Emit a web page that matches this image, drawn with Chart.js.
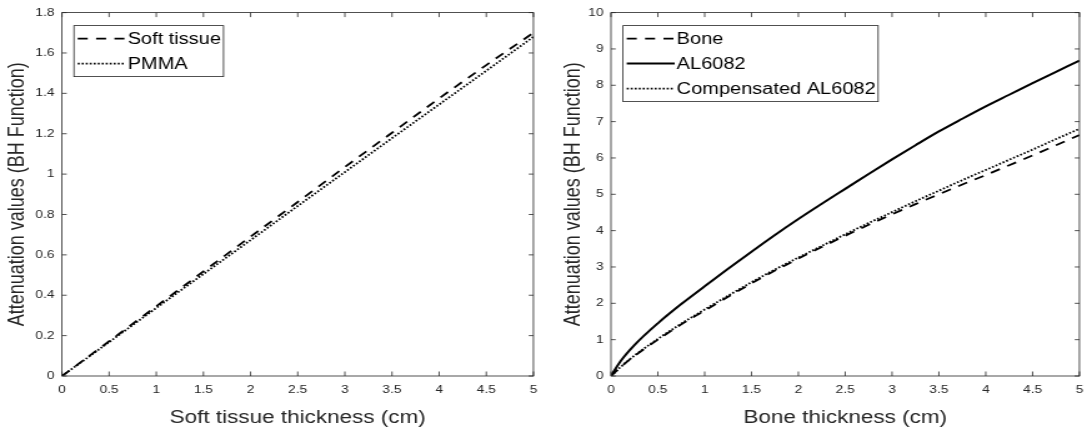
<!DOCTYPE html>
<html>
<head>
<meta charset="utf-8">
<script src="https://cdn.jsdelivr.net/npm/chart.js@4.4.1/dist/chart.umd.min.js"></script>
<style>
  body { margin: 0; background: #fff; }
  .panel { position: absolute; top: 0; width: 546px; height: 437px; }
  .panel canvas { width: 546px !important; height: 437px !important; }
</style>
</head>
<body>
<div class="panel" style="left:0"><canvas id="softChart" width="437" height="437" style="width:546px;height:437px"></canvas></div>
<div class="panel" style="left:546px"><canvas id="boneChart" width="437" height="437" style="width:546px;height:437px"></canvas></div>
<script>
// left panel: soft tissue vs PMMA
var softX = [0, 0.5, 1, 1.5, 2, 2.5, 3, 3.5, 4, 4.5, 5];
var softTissue = [0, 0.172, 0.345, 0.518, 0.69, 0.862, 1.035, 1.205, 1.375, 1.54, 1.70];
var pmma = [0, 0.168, 0.337, 0.505, 0.673, 0.842, 1.01, 1.178, 1.345, 1.512, 1.68];

// right panel: bone vs AL6082
var boneX = [0, 0.1, 0.25, 0.5, 0.75, 1, 1.25, 1.5, 1.75, 2, 2.25, 2.5, 2.75, 3, 3.25, 3.5, 3.75, 4, 4.25, 4.5, 4.75, 5];
var bone = [0, 0.24, 0.55, 1.0, 1.42, 1.8, 2.18, 2.55, 2.9, 3.23, 3.55, 3.86, 4.16, 4.45, 4.73, 5.0, 5.27, 5.53, 5.8, 6.07, 6.35, 6.63];
var al6082 = [0, 0.4, 0.85, 1.45, 1.98, 2.47, 2.95, 3.42, 3.88, 4.32, 4.74, 5.15, 5.56, 5.96, 6.35, 6.73, 7.08, 7.42, 7.74, 8.06, 8.37, 8.68];
var compensated = [0, 0.24, 0.56, 1.02, 1.44, 1.83, 2.21, 2.58, 2.93, 3.26, 3.58, 3.9, 4.21, 4.51, 4.81, 5.1, 5.39, 5.67, 5.95, 6.23, 6.52, 6.8];

var xTicks = [0, 0.5, 1, 1.5, 2, 2.5, 3, 3.5, 4, 4.5, 5];

var FONT = '"Liberation Sans", Arial, Helvetica, sans-serif';
Chart.defaults.font.family = FONT;

function pts(xs, ys) {
    return xs.map(function(x, i) { return {x: x, y: ys[i]}; });
}

var fmt = function(v) { return String(Number(v.toFixed(2))); };

// matlab style box with inward ticks
var matlabAxes = {
    id: 'matlabAxes',
    afterDraw: function(chart) {
        var ctx = chart.ctx, a = chart.chartArea;
        var x = chart.scales.x, y = chart.scales.y;
        ctx.save();
        ctx.strokeStyle = '#262626';
        ctx.lineWidth = 0.8;
        ctx.strokeRect(a.left, a.top, a.right - a.left, a.bottom - a.top);
        ctx.beginPath();
        x.ticks.forEach(function(t) {
            var px = x.getPixelForValue(t.value);
            ctx.moveTo(px, a.bottom); ctx.lineTo(px, a.bottom - 4.5);
            ctx.moveTo(px, a.top); ctx.lineTo(px, a.top + 4.5);
        });
        y.ticks.forEach(function(t) {
            var py = y.getPixelForValue(t.value);
            ctx.moveTo(a.left, py); ctx.lineTo(a.left + 3.8, py);
            ctx.moveTo(a.right, py); ctx.lineTo(a.right - 3.8, py);
        });
        ctx.stroke();
        ctx.restore();
    }
};

var boxLegend = {
    id: 'boxLegend',
    afterDatasetsDraw: function(chart, args, opts) {
        var ctx = chart.ctx, a = chart.chartArea;
        var items = chart.data.datasets;
        ctx.save();
        ctx.font = '16px ' + FONT;
        var textW = Math.max.apply(null, items.map(function(d) { return ctx.measureText(d.label).width; }));
        var x0 = a.left + 9.6, y0 = a.top + 13;
        var sample = 38.4, gap = 1.6, rowH = 25, padY = 0.5;
        var w = 3 + sample + gap + textW + 2;
        var h = rowH * items.length + padY * 2;
        ctx.fillStyle = '#fff';
        ctx.fillRect(x0, y0, w, h);
        ctx.strokeStyle = '#262626';
        ctx.lineWidth = 0.8;
        ctx.strokeRect(x0, y0, w, h);
        items.forEach(function(d, i) {
            var yy = y0 + padY + rowH * (i + 0.5);
            ctx.beginPath();
            ctx.setLineDash(d.borderDash || []);
            ctx.lineWidth = d.borderWidth;
            ctx.strokeStyle = d.borderColor;
            ctx.moveTo(x0 + 3, yy);
            ctx.lineTo(x0 + 3 + sample, yy);
            ctx.stroke();
            ctx.setLineDash([]);
            ctx.fillStyle = '#000';
            ctx.textBaseline = 'middle';
            ctx.fillText(d.label, x0 + 3 + sample + gap, yy + 1);
        });
        ctx.restore();
    }
};

function makeOptions(yMax, yStep, xTitle, yLeft, yTitlePad, rightPad) {
    return {
        responsive: false,
        animation: false,
        events: [],
        layout: {padding: {top: 8, right: rightPad, left: 0, bottom: 0}},
        plugins: {legend: {display: false}, tooltip: {enabled: false}},
        elements: {point: {radius: 0}, line: {cubicInterpolationMode: 'monotone'}},
        scales: {
            x: {
                type: 'linear', min: 0, max: 5,
                afterBuildTicks: function(s) { s.ticks = xTicks.map(function(v) { return {value: v}; }); },
                grid: {display: false, drawTicks: false},
                border: {display: false},
                ticks: {padding: 7, color: '#262626', font: {size: 11}, maxRotation: 0, callback: fmt},
                title: {display: true, text: xTitle, color: '#262626', font: {size: 18}, padding: {top: 0, bottom: 8}},
                afterFit: function(s) { s.height = 61; }
            },
            y: {
                type: 'linear', min: 0, max: yMax,
                ticks: {stepSize: yStep, padding: 6, color: '#262626', font: {size: 11}, callback: fmt},
                grid: {display: false, drawTicks: false},
                border: {display: false},
                title: {display: true, text: 'Attenuation values (BH Function)', color: '#262626', font: {size: 18}, padding: {top: yTitlePad, bottom: 0}},
                afterFit: function(s) { s.width = yLeft; }
            }
        }
    };
}

var softChart = new Chart(document.getElementById('softChart').getContext('2d'), {
    type: 'line',
    data: {
        datasets: [{
            label: 'Soft tissue',
            data: pts(softX, softTissue),
            borderColor: '#000',
            borderWidth: 1.8,
            borderDash: [8, 6.7]
        }, {
            label: 'PMMA',
            data: pts(softX, pmma),
            borderColor: '#000',
            borderWidth: 1.8,
            borderDash: [1.6, 1.6]
        }]
    },
    options: makeOptions(1.8, 0.2, 'Soft tissue thickness (cm)', 49.6, 3.6, 9.8),
    plugins: [matlabAxes, boxLegend]
});

var boneChart = new Chart(document.getElementById('boneChart').getContext('2d'), {
    type: 'line',
    data: {
        datasets: [{
            label: 'Bone',
            data: pts(boneX, bone),
            borderColor: '#000',
            borderWidth: 1.8,
            borderDash: [8, 6.7]
        }, {
            label: 'AL6082',
            data: pts(boneX, al6082),
            borderColor: '#000',
            borderWidth: 2
        }, {
            label: 'Compensated AL6082',
            data: pts(boneX, compensated),
            borderColor: '#000',
            borderWidth: 1.8,
            borderDash: [1.6, 1.6]
        }]
    },
    options: makeOptions(10, 1, 'Bone thickness (cm)', 52, 10.8, 7.4),
    plugins: [matlabAxes, boxLegend]
});
</script>
</body>
</html>
